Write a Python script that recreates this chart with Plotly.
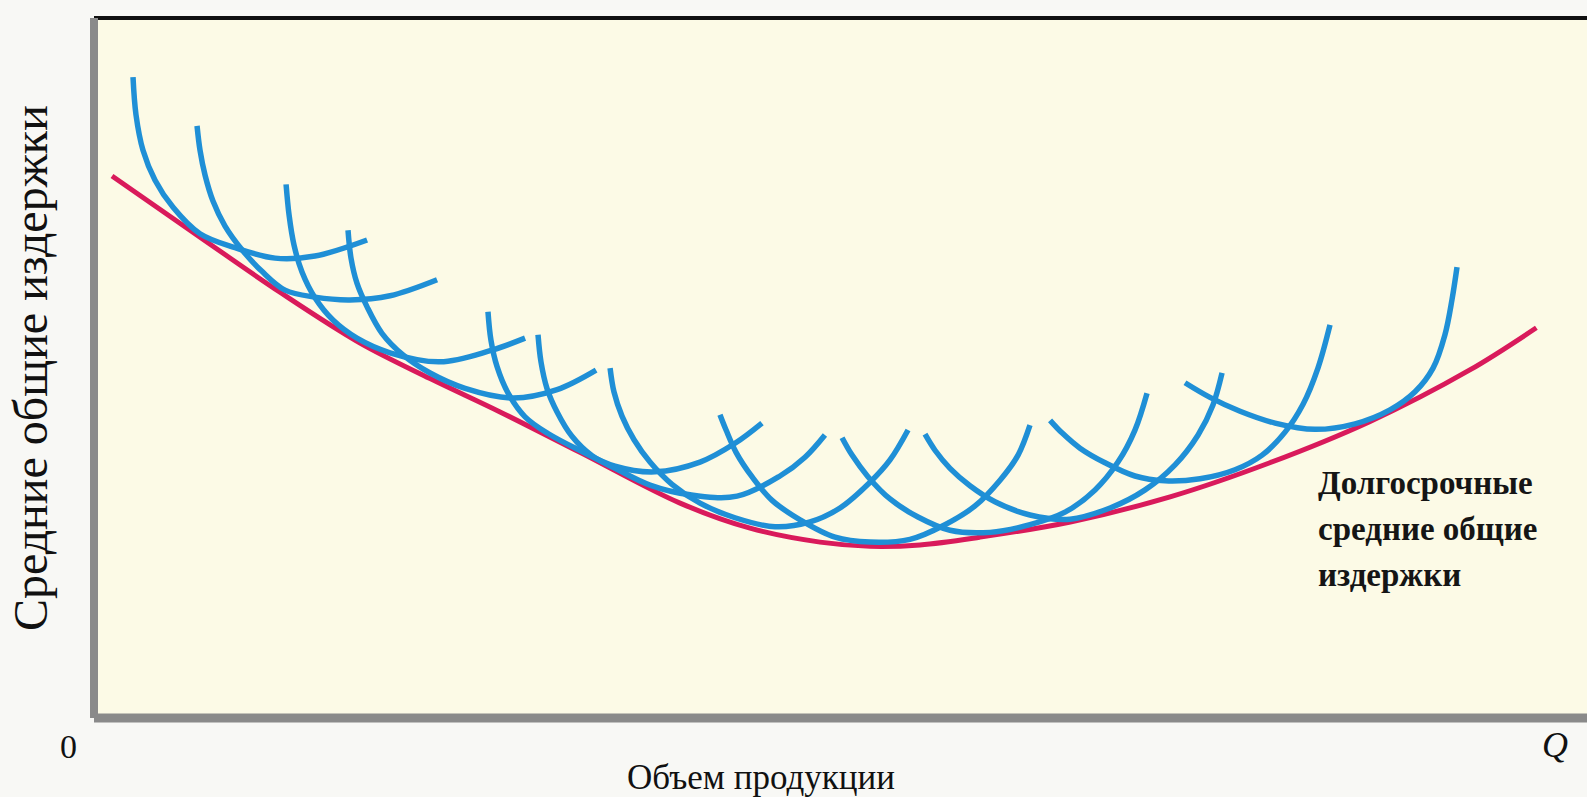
import plotly.graph_objects as go

# Long-run average total cost (envelope) (Q units 0-100, cost units 0-100)
lratc_q = [0.94, 6.85, 12.22, 17.6, 22.3, 27.0, 32.37, 39.09, 43.79, 48.49, 51.85, 55.2, 59.2, 65.3, 72.0, 78.7, 85.4, 92.1, 96.6]
lratc_c = [77.3, 68.5, 60.6, 53.3, 48.2, 43.4, 37.6, 30.3, 26.7, 24.7, 24.1, 24.3, 25.4, 27.6, 31.2, 36.1, 42.0, 49.4, 55.5]

# Short-run average total cost curves
s1_q = [2.35, 2.55, 3.02, 3.83, 5.04, 6.85, 9.2, 11.89, 14.57, 18.07]
s1_c = [91.5, 86.1, 81.0, 76.7, 72.8, 69.0, 67.0, 65.5, 65.8, 68.1]
s2_q = [6.65, 6.85, 7.19, 7.72, 8.53, 9.67, 11.01, 12.56, 14.57, 16.92, 19.61, 22.77]
s2_c = [84.5, 81.0, 77.4, 73.7, 70.1, 66.7, 63.6, 60.9, 59.9, 59.5, 60.1, 62.4]
s3_q = [12.63, 12.83, 13.16, 13.7, 14.57, 15.78, 17.39, 19.61, 22.97, 26.33, 28.68]
s3_c = [76.1, 71.7, 67.4, 63.5, 59.8, 56.6, 54.0, 51.9, 50.6, 52.2, 54.0]
s4_q = [16.79, 16.99, 17.39, 18.07, 19.07, 20.48, 22.3, 24.65, 27.87, 30.83, 33.45]
s4_c = [69.5, 65.5, 61.9, 58.5, 54.7, 51.6, 49.0, 46.8, 45.4, 46.6, 49.4]
s5_q = [26.19, 26.39, 26.8, 27.54, 28.68, 30.22, 32.24, 34.72, 37.41, 40.43, 42.78, 44.59]
s5_c = [57.8, 53.7, 49.9, 46.1, 42.7, 40.3, 38.0, 35.6, 34.8, 36.2, 38.9, 41.8]
s6_q = [29.55, 29.75, 30.15, 30.83, 31.83, 33.18, 34.92, 37.07, 39.76, 42.92, 45.8, 47.48, 48.82]
s6_c = [54.5, 50.6, 46.8, 43.4, 39.9, 37.1, 35.1, 32.9, 31.5, 31.3, 34.2, 36.9, 40.1]
s7_q = [34.39, 34.65, 35.19, 36.0, 37.07, 38.55, 40.43, 42.78, 45.47, 47.82, 49.83, 51.85, 53.19, 54.4]
s7_c = [49.7, 46.3, 42.8, 39.4, 36.2, 33.0, 30.3, 28.2, 26.9, 27.6, 29.6, 33.3, 36.5, 40.8]
s8_q = [41.77, 42.18, 42.85, 43.92, 45.27, 47.15, 49.5, 51.85, 54.53, 56.88, 58.9, 60.58, 61.79, 62.59]
s8_c = [43.0, 40.8, 37.6, 34.1, 30.7, 27.9, 25.4, 24.7, 25.1, 27.2, 29.9, 33.6, 37.2, 41.5]
s9_q = [49.97, 50.64, 51.71, 53.19, 55.07, 57.22, 59.91, 62.59, 64.94, 66.96, 68.5, 69.64, 70.45]
s9_c = [39.7, 37.2, 34.1, 30.9, 28.3, 26.4, 26.1, 27.2, 29.0, 32.2, 36.2, 40.8, 46.1]
s10_q = [55.54, 56.21, 57.22, 58.56, 60.24, 62.59, 65.28, 67.97, 70.32, 72.33, 73.88, 74.88, 75.49]
s10_c = [40.2, 37.9, 35.3, 32.8, 30.5, 28.6, 28.0, 29.6, 32.2, 35.8, 40.1, 44.4, 49.0]
s11_q = [63.94, 64.74, 65.95, 67.63, 69.64, 71.66, 74.01, 76.36, 78.18, 79.72, 80.93, 81.93, 82.74]
s11_c = [42.2, 40.4, 38.2, 36.1, 34.2, 33.5, 33.8, 35.1, 37.2, 40.5, 44.5, 49.7, 55.9]
s12_q = [73.0, 74.68, 76.7, 79.05, 81.73, 84.42, 86.77, 88.45, 89.66, 90.46, 90.93, 91.27]
s12_c = [47.6, 45.5, 43.5, 41.8, 40.9, 41.7, 43.7, 46.3, 49.7, 54.5, 59.5, 64.2]

short_run = [(s1_q, s1_c), (s2_q, s2_c), (s3_q, s3_c), (s4_q, s4_c), (s5_q, s5_c), (s6_q, s6_c),
             (s7_q, s7_c), (s8_q, s8_c), (s9_q, s9_c), (s10_q, s10_c), (s11_q, s11_c), (s12_q, s12_c)]

x_title = "Объем продукции"
y_title = "Средние общие издержки"
lratc_label = ["Долгосрочные", "средние общие", "издержки"]

BLUE = "#1f8fd6"
RED = "#d91a5b"
SERIF = "Liberation Serif, Times New Roman, serif"

fig = go.Figure()
fig.add_trace(go.Scatter(x=lratc_q, y=lratc_c, mode="lines",
                         line=dict(color=RED, width=5, shape="spline", smoothing=1.0),
                         hoverinfo="skip", showlegend=False))
for q, c in short_run:
    fig.add_trace(go.Scatter(x=q, y=c, mode="lines",
                             line=dict(color=BLUE, width=5.5, shape="spline", smoothing=1.0),
                             hoverinfo="skip", showlegend=False))

annotations = [
    dict(text="0", xref="paper", yref="paper", x=0, y=0, xanchor="right", yanchor="middle",
         xshift=-15, yshift=-28, showarrow=False, font=dict(family=SERIF, size=34, color="#111")),
    dict(text="<i>Q</i>", xref="paper", yref="paper", x=1, y=0, xanchor="right", yanchor="middle",
         xshift=-17, yshift=-27, showarrow=False, font=dict(family=SERIF, size=36, color="#111")),
    dict(text=x_title, xref="paper", yref="paper", x=0.447, y=0, xanchor="center", yanchor="middle",
         yshift=-59, showarrow=False, font=dict(family=SERIF, size=35, color="#111")),
    dict(text=y_title, xref="paper", yref="paper", x=0, y=0.5, xanchor="center", yanchor="middle",
         xshift=-64, textangle=-90, showarrow=False, font=dict(family=SERIF, size=48, color="#111")),
]
label_y = [0.336, 0.27, 0.205]
for txt, yy in zip(lratc_label, label_y):
    annotations.append(dict(text="<b>" + txt + "</b>", xref="paper", yref="paper", x=0.8185, y=yy,
                            xanchor="left", yanchor="middle", showarrow=False,
                            font=dict(family=SERIF, size=33, color="#151515")))

shapes = [
    dict(type="line", xref="paper", yref="paper", x0=0, x1=1, y0=1, y1=1,
         line=dict(color="#111111", width=4)),
    dict(type="line", xref="paper", yref="paper", x0=0, x1=0, y0=0, y1=1,
         line=dict(color="#8a8a8a", width=8)),
    dict(type="line", xref="paper", yref="paper", x0=0, x1=1, y0=0, y1=0,
         line=dict(color="#8a8a8a", width=9)),
]

fig.update_layout(
    width=1587, height=797,
    margin=dict(l=94, r=0, t=18, b=79),
    paper_bgcolor="#f8f8f5",
    plot_bgcolor="#fcfae6",
    xaxis=dict(range=[-0.27, 100], showgrid=False, zeroline=False, showticklabels=False,
               ticks="", showline=False, fixedrange=True),
    yaxis=dict(range=[-0.57, 100], showgrid=False, zeroline=False, showticklabels=False,
               ticks="", showline=False, fixedrange=True),
    annotations=annotations,
    shapes=shapes,
    showlegend=False,
)

fig.write_html("out.html", config={"displayModeBar": False},
               post_script="document.body.style.margin='0';document.body.style.overflow='hidden';")
